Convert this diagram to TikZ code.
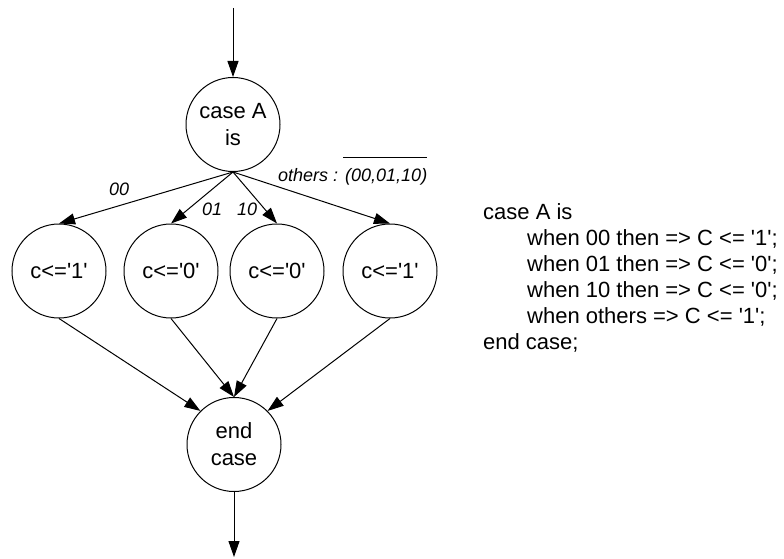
\documentclass[tikz,border=0pt]{standalone}
\usepackage{fontspec}
\newfontfamily\arialfont{Liberation Sans}
\usetikzlibrary{arrows.meta}
\begin{document}
\begin{tikzpicture}[x=1pt,y=-1pt,
  state/.style={draw,circle,line width=1pt,minimum size=94pt,inner sep=0pt,align=center,font=\arialfont\fontsize{22}{27}\selectfont},
  flow/.style={line width=1pt,-{Triangle[length=16pt,width=11pt]}},
  plain/.style={line width=1pt},
  lbl/.style={font=\arialfont\fontsize{18}{20}\selectfont\itshape,inner sep=0pt,anchor=base west},
  code/.style={font=\arialfont\fontsize{22}{26}\selectfont,inner sep=0pt,anchor=base west}]
\useasboundingbox (0,0) rectangle (784,559);
% nodes
\node[state] (top) at (233,124.5) {case A\\is};
\node[state] (c1) at (59,271) {c<='1'};
\node[state] (c2) at (171,271) {c<='0'};
\node[state] (c3) at (277,271) {c<='0'};
\node[state] (c4) at (390,271) {c<='1'};
\node[state] (end) at (234,444.5) {end\\case};
\coordinate (in) at (233,8);
\coordinate (out) at (234,557);
% connectors
\draw[flow] (in) -- (top.north);
\draw[flow] (top.south) -- (c1.north);
\draw[flow] (top.south) -- (c2.north);
\draw[flow] (top.south) -- (c3.north);
\draw[flow] (top.south) -- (c4.north);
\draw[flow] (c1.south) -- (end.135);
\draw[flow] (c2.south) -- (end.north);
\draw[flow] (c3.south) -- (end.north);
\draw[flow] (c4.south) -- (end.45);
\draw[flow] (end.south) -- (out);
% labels
\node[lbl] (l00) at (109,195) {00};
\node[lbl] (l01) at (202,215) {01};
\node[lbl] (l10) at (237,215) {10};
\node[lbl] (othA) at (278,181) {others :};
\node[lbl] (othB) at (345,181) {(00,01,10)};
\draw[plain] ([xshift=-2pt,yshift=10pt]othB.north west) -- ([yshift=10pt]othB.north east);
% code
\node[code] (k1) at (483,219) {case A is};
\node[code] (k2) at (527,245) {when 00 then => C <= '1';};
\node[code] (k3) at (527,271) {when 01 then => C <= '0';};
\node[code] (k4) at (527,297) {when 10 then => C <= '0';};
\node[code] (k5) at (527,323) {when others => C <= '1';};
\node[code] (k6) at (483,349) {end case;};
\end{tikzpicture}
\end{document}
